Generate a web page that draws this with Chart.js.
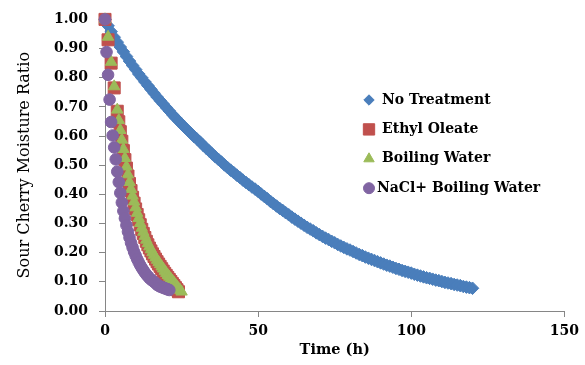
<!DOCTYPE html>
<html>
<head>
<meta charset="utf-8">
<script src="https://cdn.jsdelivr.net/npm/chart.js@4.4.1/dist/chart.umd.min.js"></script>
<style>
  html,body{margin:0;padding:0;background:#fff}
  #wrap{width:585px;height:365px}
</style>
</head>
<body>
<div id="wrap"><canvas id="c" width="585" height="365"></canvas></div>
<script>
// drying curves: time (h) vs moisture ratio
const noTreatTime = [0,1,2,3,4,5,6,7,8,9,10,11,12,13,14,15,16,17,18,19,20,21,22,23,24,25,26,27,28,29,30,31,32,33,34,35,36,37,38,39,40,41,42,43,44,45,46,47,48,49,50,51,52,53,54,55,56,57,58,59,60,61,62,63,64,65,66,67,68,69,70,71,72,73,74,75,76,77,78,79,80,81,82,83,84,85,86,87,88,89,90,91,92,93,94,95,96,97,98,99,100,101,102,103,104,105,106,107,108,109,110,111,112,113,114,115,116,117,118,119,120];
const noTreatMR = [1.000,0.978,0.958,0.939,0.922,0.905,0.889,0.873,0.857,0.842,0.828,0.813,0.800,0.786,0.773,0.760,0.747,0.734,0.722,0.710,0.698,0.686,0.674,0.663,0.652,0.641,0.630,0.620,0.610,0.599,0.590,0.580,0.569,0.559,0.549,0.539,0.529,0.520,0.511,0.501,0.492,0.483,0.475,0.466,0.458,0.449,0.441,0.433,0.425,0.418,0.410,0.401,0.393,0.385,0.376,0.368,0.360,0.352,0.345,0.337,0.330,0.322,0.315,0.308,0.301,0.294,0.287,0.281,0.275,0.268,0.262,0.256,0.250,0.245,0.239,0.234,0.228,0.223,0.218,0.213,0.209,0.204,0.199,0.194,0.190,0.185,0.181,0.177,0.173,0.169,0.165,0.161,0.157,0.154,0.150,0.146,0.143,0.139,0.136,0.133,0.130,0.126,0.123,0.120,0.117,0.114,0.112,0.109,0.106,0.104,0.101,0.098,0.096,0.094,0.091,0.089,0.087,0.084,0.082,0.080,0.078];

const ethylTime = [0,1,2,3,4,4.5,5,5.5,6,6.5,7,7.5,8,8.5,9,9.5,10,10.5,11,11.5,12,12.5,13,13.5,14,14.5,15,15.5,16,16.5,17,17.5,18,18.5,19,19.5,20,20.5,21,21.5,22,22.5,23,23.5,24];
const ethylMR = [1.000,0.930,0.850,0.765,0.685,0.649,0.615,0.582,0.550,0.519,0.490,0.463,0.437,0.413,0.390,0.370,0.350,0.331,0.313,0.296,0.280,0.266,0.252,0.239,0.227,0.216,0.206,0.196,0.187,0.178,0.169,0.161,0.153,0.145,0.137,0.129,0.122,0.115,0.108,0.101,0.094,0.087,0.080,0.073,0.066];

const boilTime = [0,1,2,3,4,4.5,5,5.5,6,6.5,7,7.5,8,8.5,9,9.5,10,10.5,11,11.5,12,12.5,13,13.5,14,14.5,15,15.5,16,16.5,17,17.5,18,18.5,19,19.5,20,20.5,21,21.5,22,22.5,23,23.5,24,24.5,25];
const boilMR = [1.000,0.940,0.854,0.770,0.690,0.654,0.620,0.587,0.555,0.524,0.495,0.468,0.442,0.418,0.395,0.375,0.355,0.336,0.318,0.301,0.285,0.271,0.257,0.244,0.232,0.221,0.211,0.201,0.192,0.183,0.175,0.167,0.160,0.152,0.145,0.137,0.130,0.123,0.117,0.110,0.104,0.097,0.091,0.084,0.078,0.072,0.066];

const naclTime = [0,0.5,1,1.5,2,2.5,3,3.5,4,4.5,5,5.5,6,6.5,7,7.5,8,8.5,9,9.5,10,10.5,11,11.5,12,12.5,13,13.5,14,14.5,15,15.5,16,16.5,17,17.5,18,18.5,19,19.5,20,20.5,21];
const naclMR = [1.000,0.888,0.810,0.725,0.648,0.602,0.561,0.520,0.478,0.442,0.405,0.372,0.343,0.318,0.294,0.272,0.252,0.234,0.218,0.203,0.190,0.178,0.167,0.157,0.148,0.140,0.132,0.125,0.119,0.113,0.108,0.104,0.100,0.096,0.090,0.087,0.084,0.082,0.080,0.078,0.076,0.074,0.072];

const seriesNames = ['No Treatment','Ethyl Oleate','Boiling Water','NaCl+ Boiling Water'];
const xTickValues = [0,50,100,150];
const yTickLabels = ['0.00','0.10','0.20','0.30','0.40','0.50','0.60','0.70','0.80','0.90','1.00'];

const FONT = "'DejaVu Serif', serif";
function pts(xs, ys){ return xs.map((x,i)=>({x:x, y:ys[i]})) }

// legend sits inside the plot, drawn by hand
const legendPos = { markX:369, textX:[382,382,382,377], top:100, gap:29.4 };
const insideLegend = {
  id:'insideLegend',
  afterDatasetsDraw(chart){
    const ctx = chart.ctx; ctx.save();
    chart.data.datasets.forEach((ds,i)=>{
      const y = legendPos.top + i*legendPos.gap;
      ctx.fillStyle = ds.backgroundColor; ctx.strokeStyle = ds.borderColor; ctx.lineWidth = 1;
      Chart.helpers.drawPoint(ctx, {pointStyle:ds.pointStyle, radius:ds.legendRadius, rotation:0, borderWidth:1}, legendPos.markX, y);
      ctx.fillStyle = '#000'; ctx.font = 'bold 14px ' + FONT; ctx.textBaseline = 'middle'; ctx.textAlign = 'left';
      ctx.fillText(ds.label, legendPos.textX[i], y);
    });
    ctx.restore();
  }
};

function series(label, data, color, style, r, lr, order){
  return { label, data, backgroundColor:color, borderColor:color, borderWidth:1, pointStyle:style,
    pointRadius:r, pointHoverRadius:r, showLine:false, order, clip:false, legendRadius:lr };
}

const axisGray = '#868686';
new Chart(document.getElementById('c'), {
  type:'scatter',
  data:{ datasets:[
    series(seriesNames[0], pts(noTreatTime, noTreatMR), '#4a7ebb', 'rectRot', 6.3, 5.2, 3),
    series(seriesNames[1], pts(ethylTime, ethylMR), '#c0504d', 'rect', 8.5, 8, 2),
    series(seriesNames[2], pts(boilTime, boilMR), '#9bbb59', 'triangle', 6.6, 6, 1),
    series(seriesNames[3], pts(naclTime, naclMR), '#8064a2', 'circle', 5.8, 5.5, 0)
  ]},
  options:{
    responsive:false, animation:false, devicePixelRatio:1,
    layout:{ padding:{ top:18, right:19, left:0, bottom:0 } },
    plugins:{ legend:{display:false}, tooltip:{enabled:false} },
    scales:{
      x:{ type:'linear', min:0, max:150,
        afterBuildTicks(s){ s.ticks = xTickValues.map(v=>({value:v})) },
        afterFit(s){ s.height = 54 },
        grid:{ drawOnChartArea:false, drawTicks:true, tickLength:6, color:axisGray },
        border:{ display:true, color:axisGray, width:1 },
        ticks:{ color:'#000', padding:6, font:{family:FONT, size:14, weight:'bold'}, maxRotation:0, callback:v=>String(v) },
        title:{ display:true, text:'Time (h)', color:'#000', padding:{top:0,bottom:6}, font:{family:FONT, size:14.5, weight:'bold'} }
      },
      y:{ type:'linear', min:0, max:1,
        afterBuildTicks(s){ s.ticks = yTickLabels.map((t,i)=>({value:i/10})) },
        afterFit(s){ s.width = 105 },
        grid:{ drawOnChartArea:false, drawTicks:true, tickLength:6, color:axisGray },
        border:{ display:true, color:axisGray, width:1 },
        ticks:{ color:'#000', padding:11, font:{family:FONT, size:14, weight:'bold'}, callback:(v,i)=>yTickLabels[i] },
        title:{ display:true, text:'Sour Cherry Moisture Ratio', color:'#000', padding:{top:15,bottom:0}, font:{family:FONT, size:16, weight:'normal'} }
      }
    }
  },
  plugins:[insideLegend]
});
</script>
</body>
</html>
